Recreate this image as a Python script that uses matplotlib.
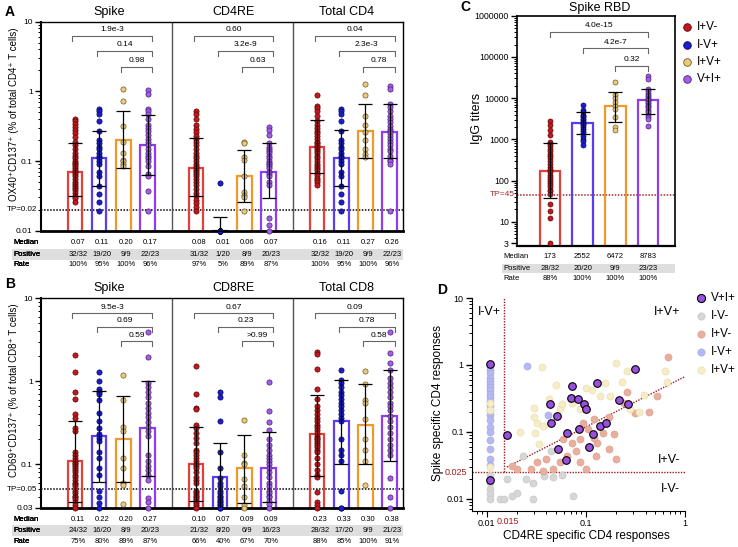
import matplotlib
matplotlib.use('Agg')
import numpy as np
import matplotlib.pyplot as plt
import matplotlib.transforms as mtrans
from matplotlib.patches import Rectangle
from matplotlib.ticker import LogLocator, NullFormatter

plt.rcParams['font.family'] = ['Liberation Sans', 'DejaVu Sans']

# ---------------- data ----------------
groups = ['I+V-', 'I-V+', 'I+V+', 'V+I+']
dot_face = ['#c4161c', '#1c1cd0', '#e9cb7a', '#a45ee6']
dot_edge = ['#5a0808', '#08085a', '#6e5a28', '#4a1d7a']
bar_edge = ['#e2403a', '#5b3cf5', '#f0982a', '#8f3cf5']

# A: OX40+CD137+ CD4
a_titles = ['Spike', 'CD4RE', 'Total CD4']
a_spike = [
    [0.40, 0.37, 0.34, 0.31, 0.28, 0.25, 0.22, 0.19, 0.17, 0.15, 0.13, 0.12, 0.11, 0.10, 0.095, 0.09,
     0.085, 0.08, 0.075, 0.07, 0.065, 0.06, 0.055, 0.05, 0.047, 0.044, 0.041, 0.038, 0.035, 0.032, 0.029, 0.026],
    [0.55, 0.52, 0.48, 0.38, 0.27, 0.20, 0.18, 0.16, 0.15, 0.13, 0.12, 0.11, 0.10, 0.09, 0.07, 0.06,
     0.044, 0.034, 0.026, 0.019],
    [1.08, 0.72, 0.32, 0.19, 0.13, 0.105, 0.10, 0.092, 0.086],
    [1.05, 0.92, 0.56, 0.52, 0.47, 0.40, 0.33, 0.30, 0.27, 0.24, 0.21, 0.19, 0.17, 0.15, 0.13, 0.12,
     0.11, 0.10, 0.085, 0.065, 0.06, 0.037, 0.019],
]
a_cd4re = [
    [0.52, 0.47, 0.40, 0.33, 0.29, 0.26, 0.23, 0.21, 0.19, 0.17, 0.15, 0.13, 0.12, 0.11, 0.10, 0.09,
     0.085, 0.08, 0.075, 0.07, 0.065, 0.06, 0.055, 0.05, 0.045, 0.04, 0.035, 0.032, 0.028, 0.025, 0.022, 0.019],
    [0.048, 0.01, 0.01, 0.01, 0.01, 0.01, 0.01, 0.01, 0.01, 0.01, 0.01, 0.01, 0.01, 0.01, 0.01, 0.01,
     0.01, 0.01, 0.01, 0.01],
    [0.19, 0.18, 0.115, 0.105, 0.06, 0.036, 0.033, 0.030, 0.019],
    [0.31, 0.28, 0.24, 0.18, 0.16, 0.15, 0.14, 0.13, 0.12, 0.11, 0.10, 0.095, 0.09, 0.085, 0.08, 0.07,
     0.065, 0.06, 0.05, 0.045, 0.015, 0.012, 0.01],
]
a_total = [
    [0.88, 0.62, 0.58, 0.52, 0.45, 0.38, 0.33, 0.30, 0.27, 0.25, 0.23, 0.21, 0.19, 0.18, 0.17, 0.16,
     0.15, 0.14, 0.13, 0.12, 0.11, 0.10, 0.09, 0.085, 0.08, 0.075, 0.068, 0.062, 0.058, 0.054, 0.05, 0.046],
    [0.55, 0.52, 0.48, 0.38, 0.27, 0.20, 0.18, 0.16, 0.15, 0.13, 0.12, 0.11, 0.10, 0.09, 0.07, 0.06,
     0.044, 0.034, 0.026, 0.019],
    [1.29, 0.90, 0.45, 0.33, 0.26, 0.20, 0.15, 0.125, 0.115],
    [1.18, 1.08, 0.65, 0.60, 0.52, 0.45, 0.40, 0.36, 0.32, 0.29, 0.27, 0.25, 0.23, 0.21, 0.19, 0.17,
     0.15, 0.14, 0.12, 0.105, 0.10, 0.09, 0.019],
]
a_median = [[0.07, 0.11, 0.20, 0.17], [0.08, 0.01, 0.06, 0.07], [0.16, 0.11, 0.27, 0.26]]
a_lo = [[0.031, 0.044, 0.079, 0.064], [0.032, 0.01, 0.026, 0.029], [0.067, 0.044, 0.112, 0.11]]
a_hi = [[0.18, 0.27, 0.52, 0.46], [0.215, 0.0155, 0.146, 0.18], [0.39, 0.276, 0.66, 0.65]]
a_pos = [['32/32', '19/20', '9/9', '22/23'], ['31/32', '1/20', '8/9', '20/23'], ['32/32', '19/20', '9/9', '22/23']]
a_rate = [['100%', '95%', '100%', '96%'], ['97%', '5%', '89%', '87%'], ['100%', '95%', '100%', '96%']]
a_pvals = [['1.9e-3', '0.14', '0.98'], ['0.60', '3.2e-9', '0.63'], ['0.04', '2.3e-3', '0.78']]

# B: CD69+CD137+ CD8
b_titles = ['Spike', 'CD8RE', 'Total CD8']
b_spike = [
    [2.1, 1.3, 0.75, 0.62, 0.40, 0.36, 0.27, 0.25, 0.14, 0.13, 0.12, 0.11, 0.105, 0.10, 0.095, 0.09,
     0.085, 0.08, 0.075, 0.07, 0.065, 0.06, 0.058, 0.055, 0.048, 0.045, 0.042, 0.04, 0.038, 0.035, 0.032, 0.03],
    [1.3, 1.0, 0.80, 0.75, 0.70, 0.60, 0.42, 0.33, 0.27, 0.23, 0.21, 0.19, 0.14, 0.12, 0.09, 0.075,
     0.048, 0.04, 0.034, 0.03],
    [1.2, 0.6, 0.28, 0.25, 0.12, 0.09, 0.06, 0.057, 0.033],
    [3.9, 1.95, 0.95, 0.85, 0.75, 0.65, 0.55, 0.48, 0.42, 0.37, 0.32, 0.28, 0.25, 0.22, 0.13, 0.11,
     0.095, 0.085, 0.075, 0.065, 0.039, 0.035, 0.03],
]
b_cd8re = [
    [1.54, 0.70, 0.48, 0.46, 0.30, 0.27, 0.24, 0.21, 0.18, 0.15, 0.14, 0.13, 0.12, 0.11, 0.10, 0.095,
     0.09, 0.08, 0.07, 0.065, 0.06, 0.048, 0.046, 0.044, 0.042, 0.04, 0.038, 0.036, 0.034, 0.032, 0.031, 0.03],
    [0.75, 0.65, 0.335, 0.14, 0.09, 0.068, 0.06, 0.055, 0.048, 0.045, 0.042, 0.04, 0.038, 0.036, 0.035,
     0.033, 0.032, 0.031, 0.03, 0.03],
    [0.34, 0.13, 0.105, 0.10, 0.066, 0.055, 0.04, 0.032, 0.03],
    [0.97, 0.44, 0.32, 0.26, 0.20, 0.17, 0.15, 0.13, 0.12, 0.11, 0.10, 0.09, 0.08, 0.07, 0.06, 0.055,
     0.048, 0.045, 0.042, 0.04, 0.036, 0.033, 0.03],
]
b_total = [
    [2.27, 2.13, 1.41, 0.80, 0.62, 0.50, 0.45, 0.40, 0.36, 0.33, 0.30, 0.28, 0.26, 0.24, 0.22, 0.21,
     0.20, 0.19, 0.18, 0.17, 0.16, 0.15, 0.14, 0.12, 0.10, 0.085, 0.075, 0.07, 0.047, 0.035, 0.032, 0.03],
    [1.37, 1.05, 0.95, 0.85, 0.75, 0.68, 0.62, 0.55, 0.50, 0.45, 0.40, 0.36, 0.33, 0.20, 0.15, 0.13,
     0.11, 0.048, 0.03, 0.03],
    [1.33, 0.92, 0.60, 0.55, 0.35, 0.20, 0.15, 0.11, 0.057],
    [3.95, 2.17, 1.68, 1.37, 1.10, 0.95, 0.85, 0.75, 0.65, 0.55, 0.50, 0.45, 0.38, 0.33, 0.28, 0.24,
     0.20, 0.17, 0.15, 0.13, 0.069, 0.04, 0.03],
]
b_median = [[0.11, 0.22, 0.20, 0.27], [0.10, 0.07, 0.09, 0.09], [0.23, 0.33, 0.30, 0.38]]
b_lo = [[0.035, 0.062, 0.061, 0.073], [0.036, 0.02, 0.034, 0.035], [0.073, 0.102, 0.10, 0.11]]
b_hi = [[0.33, 0.76, 0.66, 1.02], [0.284, 0.18, 0.225, 0.243], [0.68, 1.05, 0.92, 1.37]]
b_pos = [['24/32', '16/20', '8/9', '20/23'], ['21/32', '8/20', '6/9', '16/23'], ['28/32', '17/20', '9/9', '21/23']]
b_rate = [['75%', '80%', '89%', '87%'], ['66%', '40%', '67%', '70%'], ['88%', '85%', '100%', '91%']]
b_pvals = [['9.5e-3', '0.69', '0.59'], ['0.67', '0.23', '>0.99'], ['0.09', '0.78', '0.58']]

# C: IgG titers
c_points = [
    [2830, 2200, 1700, 1250, 850, 780, 700, 600, 520, 450, 400, 350, 300, 260, 220, 190,
     170, 160, 140, 120, 110, 100, 90, 80, 70, 60, 55, 48, 27, 18, 12.7, 3],
    [6800, 5200, 4500, 4000, 3700, 3400, 3100, 2900, 2700, 2500, 2400, 2200, 2000, 1800, 1600, 1400,
     1200, 1000, 900, 750],
    [25000, 12000, 10000, 8000, 6500, 5500, 3500, 2000, 1650],
    [34000, 29000, 17000, 15000, 13000, 12000, 11000, 10000, 9500, 9000, 8800, 8000, 7500, 7000, 6500,
     6000, 5500, 5000, 4500, 4000, 3500, 3200, 2100],
]
c_median = [173, 2552, 6472, 8783]
c_lo = [38.6, 1350, 2700, 4100]
c_hi = [825, 4740, 14400, 17100]
c_pos = ['28/32', '20/20', '9/9', '23/23']
c_rate = ['88%', '100%', '100%', '100%']
c_pvals = ['4.0e-15', '4.2e-7', '0.32']

# D: CD4RE vs Spike specific CD4 responses
d_vi_x = [0.0107, 0.0107, 0.016, 0.0437, 0.0506, 0.0446, 0.0525, 0.0728, 0.0706, 0.083, 0.0955, 0.10,
          0.0638, 0.0845, 0.063, 0.108, 0.119, 0.129, 0.138, 0.159, 0.215, 0.268, 0.313]
d_vi_y = [1.05, 0.019, 0.089, 0.265, 0.173, 0.136, 0.055, 0.49, 0.325, 0.307, 0.265, 0.218,
          0.095, 0.112, 0.038, 0.06, 0.094, 0.545, 0.123, 0.134, 0.30, 0.259, 0.86]
d_nn_x = [0.0107, 0.0107, 0.0107, 0.0107, 0.0107, 0.0135, 0.015, 0.018, 0.02, 0.029, 0.029, 0.047,
          0.074, 0.025, 0.016, 0.044, 0.057, 0.023, 0.038]
d_nn_y = [0.023, 0.017, 0.014, 0.012, 0.0099, 0.0099, 0.0099, 0.011, 0.0123, 0.0175, 0.0099, 0.021,
          0.011, 0.0196, 0.0196, 0.052, 0.023, 0.044, 0.022]
d_pn_x = [0.68, 0.52, 0.43, 0.31, 0.26, 0.24, 0.17, 0.15, 0.19, 0.13, 0.20, 0.17, 0.12, 0.105, 0.087,
          0.072, 0.08, 0.064, 0.055, 0.04, 0.032, 0.037, 0.028, 0.02, 0.018, 0.047, 0.10, 0.087, 0.128,
          0.059, 0.094, 0.12]
d_pn_y = [1.32, 0.34, 0.20, 0.19, 0.39, 0.27, 0.17, 0.097, 0.093, 0.069, 0.039, 0.055, 0.082, 0.11, 0.078,
          0.069, 0.052, 0.044, 0.035, 0.039, 0.035, 0.026, 0.028, 0.028, 0.031, 0.028, 0.028, 0.035, 0.044,
          0.078, 0.138, 0.154]
d_np_x = [0.0107] * 21 + [0.0257, 0.0417]
d_np_y = [0.95, 0.85, 0.75, 0.65, 0.58, 0.52, 0.47, 0.42, 0.37, 0.33, 0.29, 0.25, 0.21, 0.18, 0.15,
          0.12, 0.10, 0.075, 0.055, 0.04, 0.032, 0.97, 0.18]
d_pp_x = [0.0107, 0.0107, 0.0107, 0.036, 0.05, 0.042, 0.03, 0.03, 0.032, 0.037, 0.0215, 0.031, 0.034,
          0.055, 0.057, 0.072, 0.087, 0.114, 0.138, 0.155, 0.175, 0.20, 0.28, 0.34, 0.39, 0.63, 0.66,
          0.10, 0.26, 0.23]
d_pp_y = [0.27, 0.21, 0.03, 0.93, 0.50, 0.31, 0.23, 0.17, 0.137, 0.122, 0.10, 0.096, 0.065, 0.22, 0.26,
          0.27, 0.22, 0.43, 0.34, 0.54, 0.34, 1.08, 0.22, 0.20, 0.36, 0.81, 0.55, 0.46, 0.81, 0.55]

# ---------------- figure ----------------
W, H = 738, 547
fig = plt.figure(figsize=(W / 100, H / 100), dpi=100)
over = fig.add_axes([0, 0, 1, 1], zorder=10)
over.set_xlim(0, W)
over.set_ylim(H, 0)
over.axis('off')


def px_axes(x0, y0, x1, y1):
    return fig.add_axes([x0 / W, 1 - y1 / H, (x1 - x0) / W, (y1 - y0) / H])


def draw_group(ax, x, pts, med, lo, hi, k, width=0.6, s=14):
    bottom = 1e-4
    ax.bar(x, med - bottom, bottom=bottom, width=width, facecolor='none',
           edgecolor=bar_edge[k], linewidth=1.6, zorder=2)
    ax.scatter([x] * len(pts), pts, s=s, color=dot_face[k], edgecolors=dot_edge[k],
               linewidths=0.5, zorder=3, clip_on=False)
    ax.errorbar(x, med, yerr=[[med - lo], [hi - med]], fmt='none', ecolor='black',
                elinewidth=0.9, capsize=5, capthick=0.9, zorder=4)


def bracket(ax, x1, x2, yf, txt, tick=0.024):
    tr = ax.get_xaxis_transform()
    ax.plot([x1, x1, x2, x2], [yf - tick, yf, yf, yf - tick], color='#666666', lw=0.8,
            transform=tr, clip_on=False, zorder=5)
    ax.text((x1 + x2) / 2, yf + 0.012, txt, transform=tr, ha='center', va='bottom', fontsize=6)


def log_y(ax, ticks, labels, fs):
    ax.set_yticks(ticks, labels=labels)
    ax.yaxis.set_minor_locator(LogLocator(base=10, subs=np.arange(2, 10), numticks=50))
    ax.yaxis.set_minor_formatter(NullFormatter())
    ax.tick_params(axis='y', which='major', length=4, width=1, labelsize=fs, pad=2)
    ax.tick_params(axis='y', which='minor', length=2, width=0.7)


def table_rows(ax, xs, meds, pos, rate, rows_y, fmt, x_label, band):
    tr = mtrans.blended_transform_factory(ax.transData, over.transData)
    over.add_patch(Rectangle((band[0], band[1]), band[2] - band[0], band[3] - band[1],
                             color='#dedede', zorder=0, lw=0))
    for name, y in zip(['Median', 'Positive', 'Rate'], rows_y):
        over.text(x_label, y, name, fontsize=5.5, ha='left', va='center')
    for x, m, p, r in zip(xs, meds, pos, rate):
        over.text(x, rows_y[0], fmt(m), transform=tr, fontsize=5.5, ha='center', va='center')
        over.text(x, rows_y[1], p, transform=tr, fontsize=5.5, ha='center', va='center')
        over.text(x, rows_y[2], r, transform=tr, fontsize=5.5, ha='center', va='center')


def bar_panel(box, sets, medians, los, his, pos, rate, pvals, titles, title_y, ylim,
              ticks, ticklabels, tp, tp_label, brk, rows_y, band):
    ax = px_axes(*box)
    ax.set_yscale('log')
    ax.set_ylim(*ylim)
    ax.set_xlim(-1.4, 13.55)
    ax.set_xticks([])
    log_y(ax, ticks, ticklabels, 6)
    for side, lw in [('left', 1.5), ('bottom', 2.0), ('top', 1.0), ('right', 1.0)]:
        ax.spines[side].set_linewidth(lw)
    ax.axvline(4, color='#555555', lw=1)
    ax.axvline(9, color='#555555', lw=1)
    ax.axhline(tp, color='black', ls=(0, (1, 1)), lw=1.1, zorder=1)
    ax.text(-0.012, tp, tp_label, transform=mtrans.blended_transform_factory(ax.transAxes, ax.transData),
            ha='right', va='center', fontsize=5.8)
    ttr = mtrans.blended_transform_factory(ax.transData, over.transData)
    title_x = [1.4, 6.55, 11.2]
    for g in range(3):
        xs = [g * 5 + k for k in range(4)]
        for k in range(4):
            draw_group(ax, xs[k], sets[g][k], medians[g][k], los[g][k], his[g][k], k)
        for j in range(3):
            bracket(ax, xs[j] - 0.1, xs[3] + 0.2, brk[j], pvals[g][j])
        over.text(title_x[g], title_y, titles[g], transform=ttr, fontsize=9, ha='center', va='center')
        table_rows(ax, [x + 0.12 for x in xs], medians[g], pos[g], rate[g], rows_y,
                   lambda m: '%.2f' % m, 13, band)
    return ax


# ---- panel A
bar_panel((41, 21.7, 403, 230.7), [a_spike, a_cd4re, a_total], a_median, a_lo, a_hi, a_pos, a_rate,
          a_pvals, a_titles, 12.3, (0.01, 10), [0.01, 0.1, 1, 10], ['0.01', '0.1', '1', '10'],
          0.02, 'TP=0.02', [0.933, 0.861, 0.785], [243, 254, 265], (12, 248.5, 403, 259.5))
fig.text(14 / W, 1 - 114 / H, 'OX40⁺CD137⁺ (% of total CD4⁺ T cells)', rotation=90,
         ha='center', va='center', fontsize=7)

# ---- panel B
bar_panel((41, 298.3, 403, 507.7), [b_spike, b_cd8re, b_total], b_median, b_lo, b_hi, b_pos, b_rate,
          b_pvals, b_titles, 288.3, (0.03, 10), [0.03, 0.1, 1, 10], ['0.03', '0.1', '1', '10'],
          0.05, 'TP=0.05', [0.928, 0.864, 0.795], [519.3, 530.3, 541.7], (12, 525, 403, 536))
fig.text(14 / W, 1 - 390 / H, 'CD69⁺CD137⁺ (% of total CD8⁺ T cells)', rotation=90,
         ha='center', va='center', fontsize=7)

# ---- panel C
axC = px_axes(517, 15.7, 675, 246)
axC.set_yscale('log')
axC.set_ylim(2.6, 1e6)
axC.set_xlim(-1.0, 3.82)
axC.set_xticks([])
log_y(axC, [3, 10, 100, 1000, 10000, 100000, 1000000],
      ['3', '10', '100', '1000', '10000', '100000', '1000000'], 6.3)
for side in ['left', 'top', 'right']:
    axC.spines[side].set_linewidth(1.2)
axC.spines['bottom'].set_linewidth(1.6)
for k in range(4):
    draw_group(axC, k, c_points[k], c_median[k], c_lo[k], c_hi[k], k, width=0.62, s=13)
for j, yf in enumerate([0.93, 0.858, 0.783]):
    bracket(axC, j, 3, yf, c_pvals[j], tick=0.022)
axC.axhline(45, color='#a02828', ls=(0, (1, 1)), lw=1.1, zorder=1)
axC.text(-0.015, 45, 'TP=45', transform=mtrans.blended_transform_factory(axC.transAxes, axC.transData),
         ha='right', va='center', fontsize=6, color='#a02828')
over.text(600, 7.5, 'Spike RBD', fontsize=9, ha='center', va='center')
fig.text(476.7 / W, 1 - 118 / H, 'IgG titers', rotation=90, ha='center', va='center', fontsize=9)
table_rows(axC, [0, 1, 2, 3], c_median, c_pos, c_rate, [257, 268, 278.5], lambda m: '%d' % m,
           503, (501.7, 263.5, 675, 273))
for i, g in enumerate(groups):
    y = 27.3 + 17.2 * i
    over.scatter([687.3], [y], s=30, color=dot_face[i], edgecolors=dot_edge[i], linewidths=0.6)
    over.text(697, y, g, fontsize=8.5, ha='left', va='center')

# ---- panel D
axD = px_axes(472, 298, 685, 511)
axD.set_xscale('log')
axD.set_yscale('log')
axD.set_xlim(0.0071, 1)
axD.set_ylim(0.0066, 10)
axD.spines['top'].set_visible(False)
axD.spines['right'].set_visible(False)
axD.set_xticks([0.01, 0.1, 1], labels=['0.01', '0.1', '1'])
axD.xaxis.set_minor_locator(LogLocator(base=10, subs=np.arange(2, 10), numticks=50))
axD.xaxis.set_minor_formatter(NullFormatter())
log_y(axD, [0.01, 0.1, 1, 10], ['0.01', '0.1', '1', '10'], 6.5)
axD.tick_params(axis='x', which='major', length=4, labelsize=6.5, pad=2)
axD.tick_params(axis='x', which='minor', length=2, width=0.7)
dred = '#9e1b1b'
axD.axhline(0.025, color=dred, ls=(0, (1, 1)), lw=1)
axD.plot([0.015, 0.015], [0.025, 10], color=dred, ls=(0, (1, 1)), lw=1)
axD.plot([0.016, 1], [0.03, 0.67], color=dred, ls=(0, (1, 1)), lw=1)
faded = [('I-V-', d_nn_x, d_nn_y, '#d6d6d6', '#c4c4c4'),
         ('I+V-', d_pn_x, d_pn_y, '#eaae9f', '#dc9a8a'),
         ('I-V+', d_np_x, d_np_y, '#b6b8f2', '#a4a6e6'),
         ('I+V+', d_pp_x, d_pp_y, '#f6edc6', '#e6dcae')]
for name, xs, ys, fc, ec in faded:
    axD.scatter(xs, ys, s=26, color=fc, edgecolors=ec, linewidths=0.4, zorder=2, clip_on=False)
axD.scatter(d_vi_x, d_vi_y, s=30, color='#9b4fe0', edgecolors='black', linewidths=0.8, zorder=3,
            clip_on=False)
axD.text(0.0165, -0.028, '0.015', transform=axD.get_xaxis_transform(), ha='center', va='top',
         fontsize=6.5, color=dred)
axD.text(-0.025, 0.025, '0.025', transform=mtrans.blended_transform_factory(axD.transAxes, axD.transData),
         ha='right', va='center', fontsize=6.5, color=dred)
for txt, x, y, ha in [('I-V+', 478, 311.7, 'left'), ('I+V+', 680, 311.7, 'right'),
                      ('I+V-', 680, 460, 'right'), ('I-V-', 680, 488.5, 'right')]:
    over.text(x, y, txt, fontsize=9, ha=ha, va='center')
fig.text(586.7 / W, 1 - 536.5 / H, 'CD4RE specific CD4 responses', ha='center', va='center', fontsize=8.5)
fig.text(438.5 / W, 1 - 403 / H, 'Spike specific CD4 responses', rotation=90, ha='center', va='center',
         fontsize=8.5)
leg_d = [('V+I+', '#9b4fe0', 'black', 34, 0.8)] + [(n, fc, ec, 28, 0.4) for n, _, _, fc, ec in faded]
for i, (name, fc, ec, s, lw) in enumerate(leg_d):
    y = 298 + 18 * i
    over.scatter([701], [y], s=s, color=fc, edgecolors=ec, linewidths=lw)
    over.text(711, y, name, fontsize=8.5, ha='left', va='center')

# ---- panel letters
for letter, x, y in [('A', 5, 12), ('B', 5, 284), ('C', 460, 7), ('D', 437, 290)]:
    over.text(x, y, letter, fontsize=10, fontweight='bold', ha='left', va='center')

fig.savefig('out.png', dpi=100)
